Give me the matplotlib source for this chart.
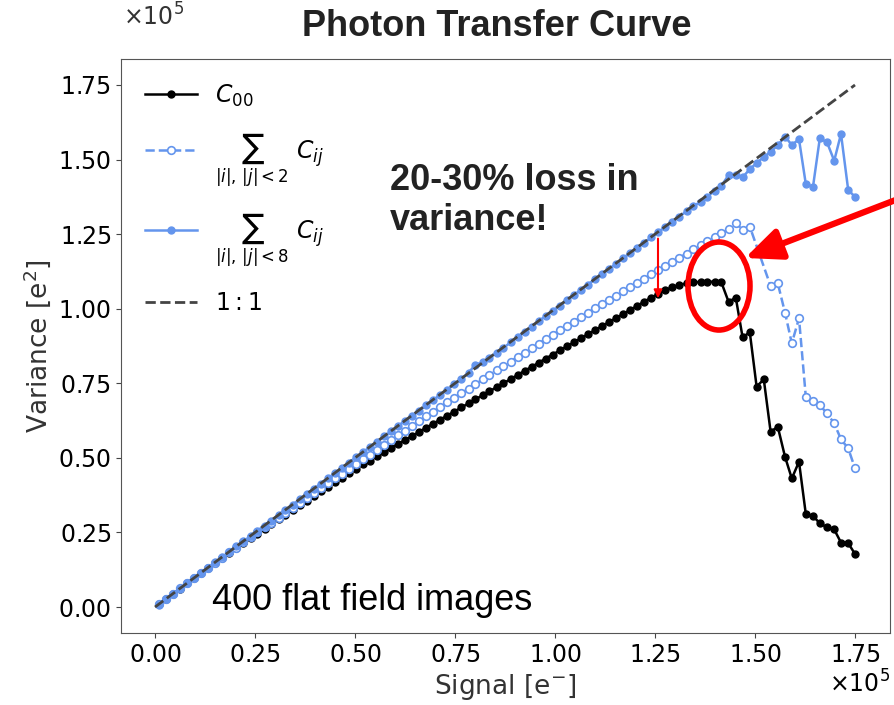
import matplotlib.pyplot as plt
import matplotlib.patches as patches
from matplotlib.ticker import ScalarFormatter, MultipleLocator
import numpy as np

# mean signal of each flat pair, in units of 1e5 e-
signal = [0.010, 0.028, 0.045, 0.063, 0.080, 0.098, 0.115, 0.133, 0.151, 0.168,
          0.186, 0.203, 0.221, 0.239, 0.256, 0.274, 0.291, 0.309, 0.326, 0.344,
          0.362, 0.379, 0.397, 0.414, 0.432, 0.450, 0.467, 0.485, 0.502, 0.520,
          0.537, 0.555, 0.573, 0.590, 0.608, 0.625, 0.643, 0.660, 0.678, 0.696,
          0.713, 0.731, 0.748, 0.766, 0.784, 0.801, 0.819, 0.836, 0.854, 0.871,
          0.889, 0.907, 0.924, 0.942, 0.959, 0.977, 0.994, 1.012, 1.030, 1.047,
          1.065, 1.082, 1.100, 1.118, 1.135, 1.153, 1.170, 1.188, 1.205, 1.223,
          1.241, 1.258, 1.276, 1.293, 1.311, 1.329, 1.346, 1.364, 1.381, 1.399,
          1.416, 1.434, 1.452, 1.469, 1.487, 1.504, 1.522, 1.539, 1.557, 1.575,
          1.592, 1.610, 1.627, 1.645, 1.662, 1.680, 1.698, 1.715, 1.733, 1.750]

c00 = [0.009, 0.028, 0.045, 0.062, 0.079, 0.097, 0.113, 0.130, 0.148, 0.164,
       0.181, 0.197, 0.214, 0.230, 0.246, 0.263, 0.278, 0.295, 0.310, 0.326,
       0.342, 0.357, 0.373, 0.388, 0.404, 0.420, 0.434, 0.450, 0.464, 0.478,
       0.491, 0.505, 0.519, 0.532, 0.546, 0.560, 0.573, 0.587, 0.601, 0.615,
       0.628, 0.642, 0.655, 0.669, 0.683, 0.696, 0.710, 0.723, 0.737, 0.750,
       0.764, 0.778, 0.792, 0.805, 0.819, 0.833, 0.846, 0.860, 0.874, 0.887,
       0.901, 0.914, 0.928, 0.942, 0.955, 0.969, 0.982, 0.996, 1.009, 1.024,
       1.037, 1.050, 1.062, 1.072, 1.080, 1.085, 1.088, 1.090, 1.091, 1.090,
       1.088, 1.023, 1.037, 0.904, 0.921, 0.739, 0.763, 0.588, 0.604, 0.504,
       0.431, 0.487, 0.312, 0.305, 0.281, 0.267, 0.260, 0.216, 0.214, 0.178]

sum_lt2 = [0.010, 0.028, 0.045, 0.063, 0.079, 0.097, 0.114, 0.131, 0.149, 0.165,
           0.183, 0.199, 0.217, 0.234, 0.250, 0.267, 0.283, 0.300, 0.316, 0.333,
           0.350, 0.366, 0.383, 0.399, 0.415, 0.432, 0.447, 0.464, 0.479, 0.496,
           0.511, 0.528, 0.544, 0.560, 0.576, 0.591, 0.607, 0.623, 0.639, 0.655,
           0.670, 0.686, 0.701, 0.717, 0.732, 0.747, 0.763, 0.778, 0.793, 0.808,
           0.823, 0.839, 0.853, 0.868, 0.883, 0.898, 0.912, 0.928, 0.943, 0.957,
           0.972, 0.986, 1.001, 1.015, 1.029, 1.044, 1.058, 1.072, 1.086, 1.101,
           1.115, 1.129, 1.143, 1.157, 1.171, 1.185, 1.199, 1.213, 1.226, 1.240,
           1.253, 1.267, 1.288, 1.264, 1.275, None, None, 1.076, 1.085, 0.987,
           0.884, 0.968, 0.705, 0.690, 0.677, 0.649, 0.616, 0.562, 0.532, 0.465]

sum_lt8 = [0.008, 0.027, 0.045, 0.062, 0.080, 0.097, 0.115, 0.132, 0.150, 0.168,
           0.185, 0.203, 0.220, 0.238, 0.256, 0.273, 0.290, 0.309, 0.325, 0.343,
           0.361, 0.378, 0.396, 0.414, 0.431, 0.449, 0.467, 0.484, 0.502, 0.519,
           0.536, 0.554, 0.572, 0.589, 0.607, 0.625, 0.641, 0.658, 0.676, 0.695,
           0.711, 0.729, 0.747, 0.764, 0.786, 0.812, 0.821, 0.835, 0.853, 0.869,
           0.887, 0.906, 0.922, 0.940, 0.958, 0.976, 0.993, 1.010, 1.029, 1.046,
           1.063, 1.081, 1.099, 1.116, 1.134, 1.150, 1.169, 1.187, 1.203, 1.221,
           1.239, 1.257, 1.274, 1.291, 1.309, 1.327, 1.344, 1.358, 1.375, 1.396,
           1.412, 1.448, 1.447, 1.440, 1.468, 1.488, 1.509, 1.526, 1.548, 1.577,
           1.549, 1.568, 1.418, 1.409, 1.571, 1.558, 1.496, 1.586, 1.398, 1.375]

one_to_one = [0.0, 1.75]

labels = [r'$C_{00}$',
          r'$\sum_{|i|,\,|j|<2}\ C_{ij}$',
          r'$\sum_{|i|,\,|j|<8}\ C_{ij}$',
          r'$1:1$']

scale = 1e5
blue = '#6495ED'

x = np.array(signal) * scale
y0 = np.array(c00) * scale
y2 = np.array([np.nan if v is None else v for v in sum_lt2]) * scale
y8 = np.array(sum_lt8) * scale
ok2 = ~np.isnan(y2)
diag = np.array(one_to_one) * scale

plt.rcParams['font.size'] = 17

fig = plt.figure(figsize=(8.95, 7.05), dpi=100)
ax = fig.add_axes([121 / 895, 72 / 705, 769 / 895, 574 / 705])

ax.plot(x, y0, 'o-', color='black', ms=5, lw=1.8, label=labels[0])
ax.plot(x[ok2], y2[ok2], 'o--', color=blue, mfc='white', mec=blue, ms=5.5,
        mew=1.2, lw=1.8, label=labels[1])
ax.plot(x, y8, 'o-', color=blue, ms=5, lw=1.8, label=labels[2])
ax.plot(diag, diag, '--', color='#444444', lw=2, label=labels[3])

ax.set_xlim(-0.085 * scale, 1.8375 * scale)
ax.set_ylim(-0.087 * scale, 1.837 * scale)
ax.xaxis.set_major_locator(MultipleLocator(0.25 * scale))
ax.yaxis.set_major_locator(MultipleLocator(0.25 * scale))
for axis in (ax.xaxis, ax.yaxis):
    fmt = ScalarFormatter(useMathText=True)
    fmt.set_powerlimits((0, 0))
    axis.set_major_formatter(fmt)
ax.tick_params(labelsize=17, color='#444444')
for sp in ax.spines.values():
    sp.set_color('#555555')

# y multiplier sits higher up, level with the title
ax.yaxis.get_offset_text().set_visible(False)
fig.text(123 / 895, 1 - 17 / 705, r'$\times10^{5}$', ha='left', va='center',
         fontsize=17, color='#333333')

ax.set_xlabel(r'Signal [e$^{-}$]', fontsize=19, color='#333333')
ax.set_ylabel(r'Variance [e$^{2}$]', fontsize=19, color='#333333')

ax.legend(loc='upper left', frameon=False, fontsize=17, handlelength=2.2,
          labelspacing=0.95, borderaxespad=0.6)

# slide annotations
fig.text(0.555, 1 - 27 / 705, 'Photon Transfer Curve', ha='center', va='center',
         fontsize=26, fontweight='bold', family='Liberation Sans', color='#222222')
fig.text(390 / 895, 1 - 163 / 705, '20-30% loss in\nvariance!', ha='left', va='top',
         fontsize=26, fontweight='bold', family='Liberation Sans', color='#222222',
         linespacing=1.18)
fig.text(212 / 895, 1 - 600 / 705, '400 flat field images', ha='left', va='center',
         fontsize=26, family='Liberation Sans', color='black')

ax.add_patch(patches.Ellipse((1.41 * scale, 1.076 * scale), 0.155 * scale, 0.295 * scale,
                             fill=False, edgecolor='red', lw=4, zorder=10))
ax.annotate('', xy=(1.475 * scale, 1.17 * scale), xytext=(1.0, 0.716),
            textcoords='figure fraction', annotation_clip=False,
            arrowprops=dict(arrowstyle='-|>,head_length=1.1,head_width=0.48',
                            color='red', lw=4.5, mutation_scale=20,
                            shrinkA=0, shrinkB=0))
ax.annotate('', xy=(1.2575 * scale, 1.035 * scale), xytext=(1.2575 * scale, 1.235 * scale),
            arrowprops=dict(arrowstyle='-|>', color='red', lw=1.5, mutation_scale=12,
                            shrinkA=0, shrinkB=0))

fig.savefig('out.png', dpi=100)
